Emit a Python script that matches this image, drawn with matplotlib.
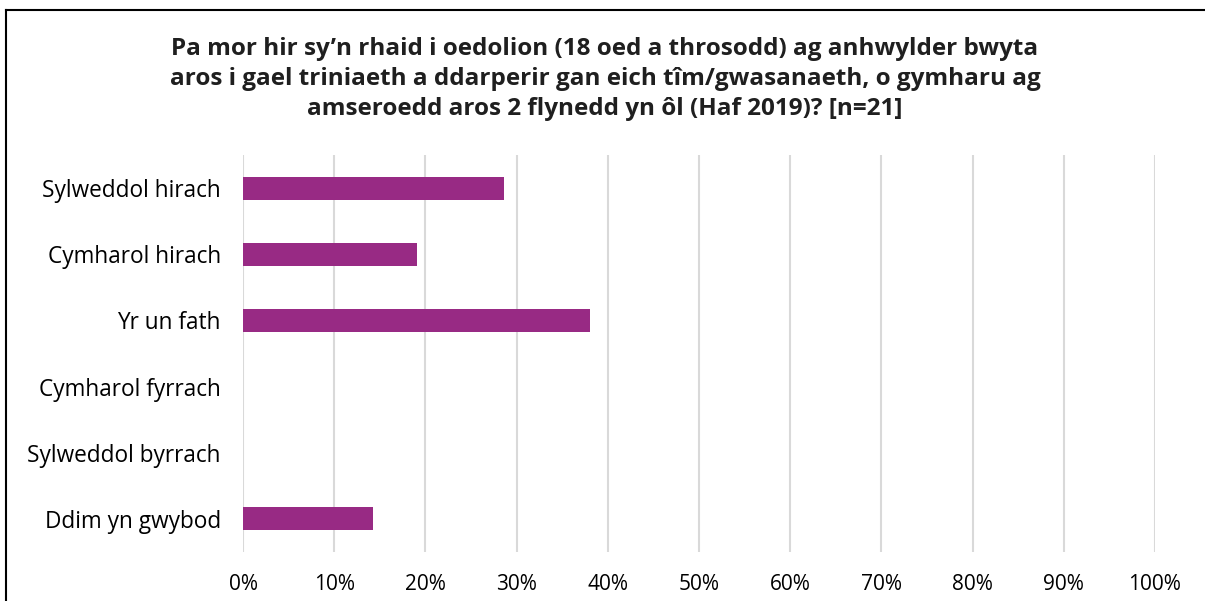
import matplotlib.pyplot as plt
from matplotlib.lines import Line2D
from matplotlib.ticker import FuncFormatter

categories = ['Sylweddol hirach', 'Cymharol hirach', 'Yr un fath',
              'Cymharol fyrrach', 'Sylweddol byrrach', 'Ddim yn gwybod']
counts = [6, 4, 8, 0, 0, 3]
n_total = 21
values = [c / n_total * 100 for c in counts]
xticks = list(range(0, 101, 10))

title = ("Pa mor hir sy\u2019n rhaid i oedolion (18 oed a throsodd) ag anhwylder bwyta\n"
         "aros i gael triniaeth a ddarperir gan eich tîm/gwasanaeth, o gymharu ag\n"
         "amseroedd aros 2 flynedd yn ôl (Haf 2019)? [n=21]")

plt.rcParams['font.family'] = ['Open Sans', 'DejaVu Sans']

fig = plt.figure(figsize=(12.05, 6.01), dpi=100)
ax = fig.add_axes([243 / 1205, 1 - 552 / 601, 912 / 1205, 397 / 601])

ypos = list(range(len(categories)))
ax.barh(ypos, values, height=0.35, color='#982A84', zorder=3)
ax.set_ylim(len(categories) - 0.5, -0.5)
ax.set_xlim(0, 100)
ax.set_yticks(ypos)
ax.set_yticklabels(categories, fontsize=16.3)
ax.set_xticks(xticks)
ax.xaxis.set_major_formatter(FuncFormatter(lambda v, p: f'{int(v)}%'))
ax.tick_params(axis='x', labelsize=15, length=0, pad=16)
ax.tick_params(axis='y', length=0, pad=16)
ax.grid(axis='x', color='#D9D9D9', linewidth=1.5, zorder=0)
for s in ax.spines.values():
    s.set_visible(False)

fig.text(0.502, 1 - 79 / 601, title, ha='center', va='center', fontsize=17.5,
         fontweight='bold', color='#1F1F1F', linespacing=1.35)

# outer chart border (left and top edges visible in the crop)
fig.add_artist(Line2D([6 / 1205, 6 / 1205], [0, 1 - 10 / 601], color='black', lw=1.5))
fig.add_artist(Line2D([6 / 1205, 1], [1 - 10 / 601, 1 - 10 / 601], color='black', lw=1.5))

fig.savefig('out.png', dpi=100)
